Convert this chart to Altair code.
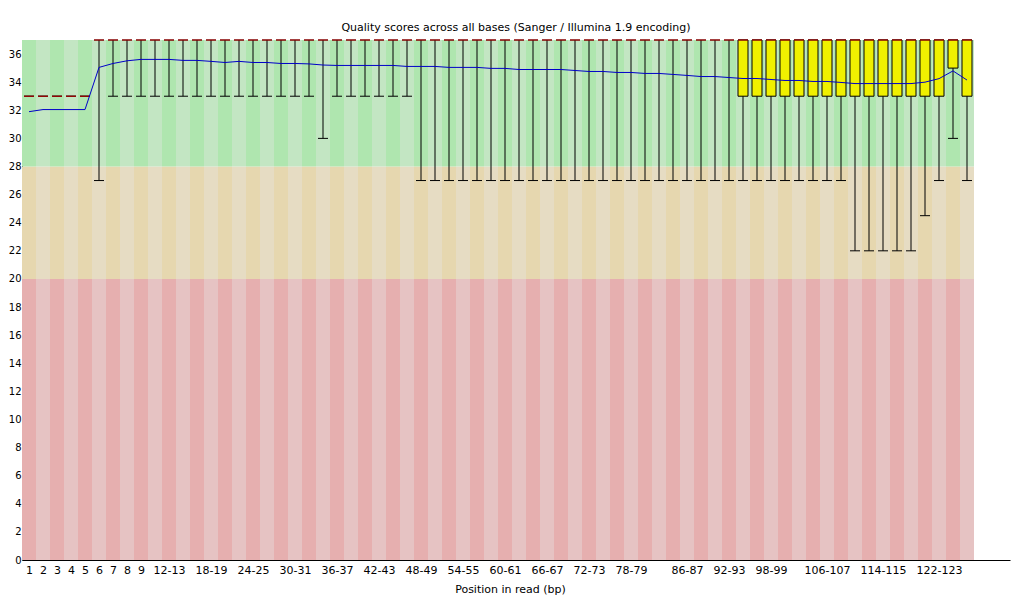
import json
import altair as alt
import pandas as pd

# ---- data ----
positions = [str(p) for p in range(1, 10)] + [f"{p}-{p+1}" for p in range(10, 128, 2)]

mean_q = [31.9, 32.05, 32.05, 32.05, 32.05, 35.05, 35.33, 35.52, 35.62, 35.62,
          35.62, 35.55, 35.55, 35.48, 35.4, 35.48, 35.4, 35.4, 35.33, 35.33,
          35.3, 35.22, 35.19, 35.19, 35.19, 35.19, 35.19, 35.12, 35.12, 35.12,
          35.05, 35.05, 35.05, 34.98, 34.98, 34.9, 34.9, 34.9, 34.9, 34.83,
          34.76, 34.76, 34.69, 34.69, 34.62, 34.62, 34.55, 34.48, 34.4, 34.4,
          34.33, 34.26, 34.26, 34.19, 34.12, 34.12, 34.05, 34.05, 33.98, 33.9,
          33.9, 33.9, 33.9, 33.9, 34.0, 34.25, 34.8, 34.15]

median_q = [33] * 5 + [37] * 63
lower_quartile = [33] * 5 + [37] * 46 + [33] * 15 + [35, 33]
upper_quartile = [33] * 5 + [37] * 63
p10 = ([33] * 5 + [27] + [33] * 15 + [30] + [33] * 6 + [27] * 31
       + [22] * 5 + [24.5, 27, 30, 27])
p90 = [33] * 5 + [37] * 63

shown_labels = ["1", "2", "3", "4", "5", "6", "7", "8", "9", "12-13", "18-19",
                "24-25", "30-31", "36-37", "42-43", "48-49", "54-55", "60-61",
                "66-67", "72-73", "78-79", "86-87", "92-93", "98-99", "106-107",
                "114-115", "122-123"]

bands = [("bad", 0, 20), ("ok", 20, 28), ("good", 28, 37)]
band_colors = {
    ("good", 0): "#afe6af", ("good", 1): "#c3e6c3",
    ("ok", 0): "#e6d7af", ("ok", 1): "#e6dcc3",
    ("bad", 0): "#e6afaf", ("bad", 1): "#e6c3c3",
}

# ---- tables ----
n = len(positions)
df = pd.DataFrame({
    "pos": positions,
    "idx": list(range(n)),
    "mean": mean_q,
    "median": median_q,
    "q1": lower_quartile,
    "q3": upper_quartile,
    "p10": p10,
    "p90": p90,
})
df["xc"] = df["idx"] + 0.5

bg_rows = []
for i in range(n):
    for name, lo, hi in bands:
        bg_rows.append({"x": i, "x2": i + 1, "y": lo, "y2": hi,
                        "c": band_colors[(name, i % 2)]})
bg = pd.DataFrame(bg_rows)

PLOT_W, PLOT_H = 988, 520
COL_W = 14
xmax = PLOT_W / COL_W
ymax = 37

xscale = alt.Scale(domain=[0, xmax], nice=False, zero=False, padding=0)
yscale = alt.Scale(domain=[0, ymax], nice=False, zero=True, padding=0)

label_values = [positions.index(l) + 0.5 for l in shown_labels]
label_expr = json.dumps(positions) + "[floor(datum.value)]"

FONT = "DejaVu Sans"

x_axis = alt.Axis(values=label_values, labelExpr=label_expr, ticks=False, tickSize=0,
                  grid=False, domainColor="black", labelPadding=4,
                  labelOverlap=False, labelFlush=False,
                  labelFontSize=11, labelFont=FONT, labelColor="black",
                  title="Position in read (bp)", titlePadding=8, titleX=488,
                  titleFont=FONT, titleFontSize=11, titleFontWeight="normal",
                  titleColor="black")
y_axis = alt.Axis(values=list(range(0, 37, 2)), ticks=False, tickSize=0, grid=False,
                  domainColor="black", labelPadding=1, labelOverlap=False,
                  labelFont=FONT, labelFontSize=10, labelColor="black", title=None)


def xenc(field):
    return alt.X(field, type="quantitative", scale=xscale, axis=x_axis)


def yenc(field):
    return alt.Y(field, type="quantitative", scale=yscale, axis=y_axis)


background = alt.Chart(bg).mark_rect().encode(
    x=xenc("x"), x2="x2:Q", y=yenc("y"), y2="y2:Q",
    color=alt.Color("c:N", scale=None),
)

base = alt.Chart(df)

whisker = base.mark_rule(color="black", strokeWidth=1).encode(
    x=xenc("xc"), y=yenc("p10"), y2="p90:Q")

cap_low = base.mark_tick(orient="horizontal", size=10, thickness=1, color="black",
                         opacity=1).encode(x=xenc("xc"), y=yenc("p10"))
cap_high = base.mark_tick(orient="horizontal", size=10, thickness=1, color="black",
                          opacity=1).encode(x=xenc("xc"), y=yenc("p90"))

boxes = base.transform_filter("datum.q3 > datum.q1").mark_bar(
    size=10, color="#f0f000", stroke="black", strokeWidth=1, opacity=1).encode(
    x=xenc("xc"), y=yenc("q1"), y2="q3:Q")

median = base.mark_tick(orient="horizontal", size=10, thickness=1, color="#c80000",
                        opacity=1).encode(x=xenc("xc"), y=yenc("median"))

mean_line = base.mark_line(color="#0000c8", strokeWidth=1).encode(
    x=xenc("xc"), y=yenc("mean"))

chart = alt.layer(background, whisker, cap_low, cap_high, boxes, median, mean_line).properties(
    width=PLOT_W,
    height=PLOT_H,
    autosize=alt.AutoSizeParams(type="none"),
    padding={"left": 14, "top": 32, "right": 2, "bottom": 40},
    title=alt.TitleParams(
        "Quality scores across all bases (Sanger / Illumina 1.9 encoding)",
        font=FONT, fontSize=11, fontWeight="normal", color="black",
        anchor="middle", offset=7),
).configure(background="white").configure_view(stroke=None).configure_axis(
    labelFont=FONT, labelColor="black", labelOverlap=False,
    titleFont=FONT, titleFontWeight="normal", titleColor="black",
)

chart.save("out.html", embed_options={"renderer": "svg", "actions": False})
